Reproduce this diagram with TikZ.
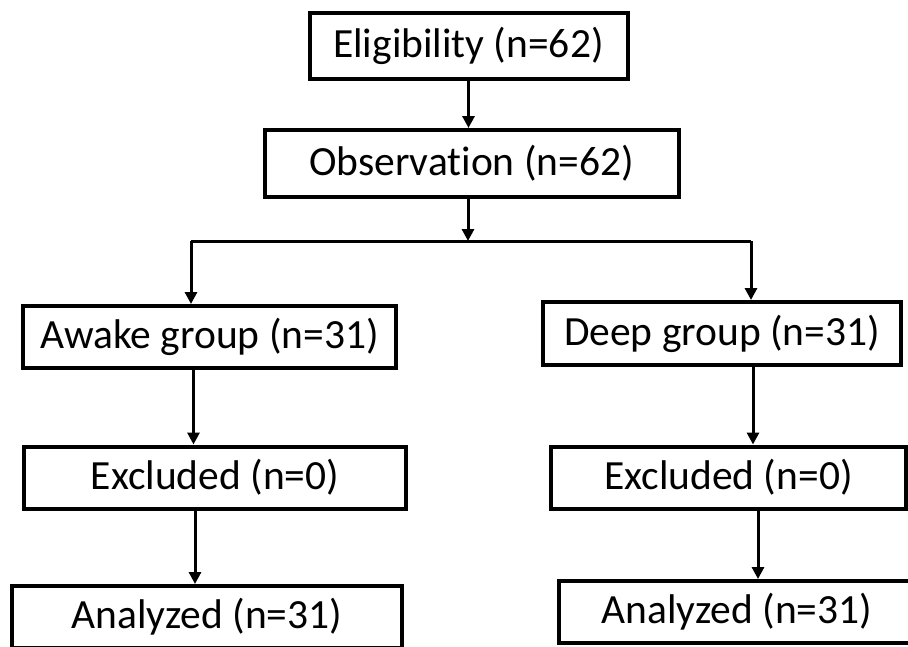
\documentclass[tikz,border=0pt]{standalone}
\usepackage{fontspec}
\setmainfont{Carlito}[RawFeature = {-liga}]
\usetikzlibrary{arrows.meta}
\tikzset{box/.style = {draw, line width = 4, inner sep = 0, minimum height = 62, font = \fontsize{41.5}{48}\selectfont}}
\tikzset{flow/.style = {line width = 3, -{Triangle[width = 12, length = 12]}}}

\begin{document}
\begin{tikzpicture}[x = 1pt, y = -1pt]
    \useasboundingbox (0, 0) rectangle (908, 646);
    \clip (0, 0) rectangle (908, 646);

    \node [box, minimum width = 318, minimum height = 66] (elig) at (468.5, 46) {Eligibility (n=62)};
    \node [box, minimum width = 414, minimum height = 67] (obs) at (471.5, 163.5) {Observation (n=62)};

    \node [box, minimum width = 373] (awake) at (209.5, 337) {Awake group (n=31)};
    \node [box, minimum width = 358, minimum height = 63] (deep) at (722, 333.5) {Deep group (n=31)};

    \node [box, minimum width = 382] (exclA) at (215, 477.5) {Excluded (n=0)};
    \node [box, minimum width = 355] (exclD) at (728.5, 477.5) {Excluded (n=0)};

    \node [box, minimum width = 390] (analA) at (207, 617) {Analyzed (n=31)};
    \node [box, minimum width = 356] (analD) at (737, 612) {Analyzed (n=31)};

    \draw [flow] (elig.south) -- (elig.south |- obs.north);

    \coordinate (split) at (468, 241);
    \coordinate (splitL) at (191, 241);
    \coordinate (splitR) at (751, 241);
    \draw [flow] (split |- obs.south) -- (split);
    \draw [line width = 3] (splitL) -- (splitR);
    \draw [flow] (splitL) -- (splitL |- awake.north);
    \draw [flow] (splitR) -- (splitR |- deep.north);

    \draw [flow] ([xshift = -16]awake.south) -- ([xshift = -16]awake.south |- exclA.north);
    \draw [flow] ([xshift = 31]deep.south) -- ([xshift = 31]deep.south |- exclD.north);

    \draw [flow] ([xshift = -20]exclA.south) -- ([xshift = -20]exclA.south |- analA.north);
    \draw [flow] ([xshift = 29.5]exclD.south) -- ([xshift = 29.5]exclD.south |- analD.north);
\end{tikzpicture}
\end{document}
